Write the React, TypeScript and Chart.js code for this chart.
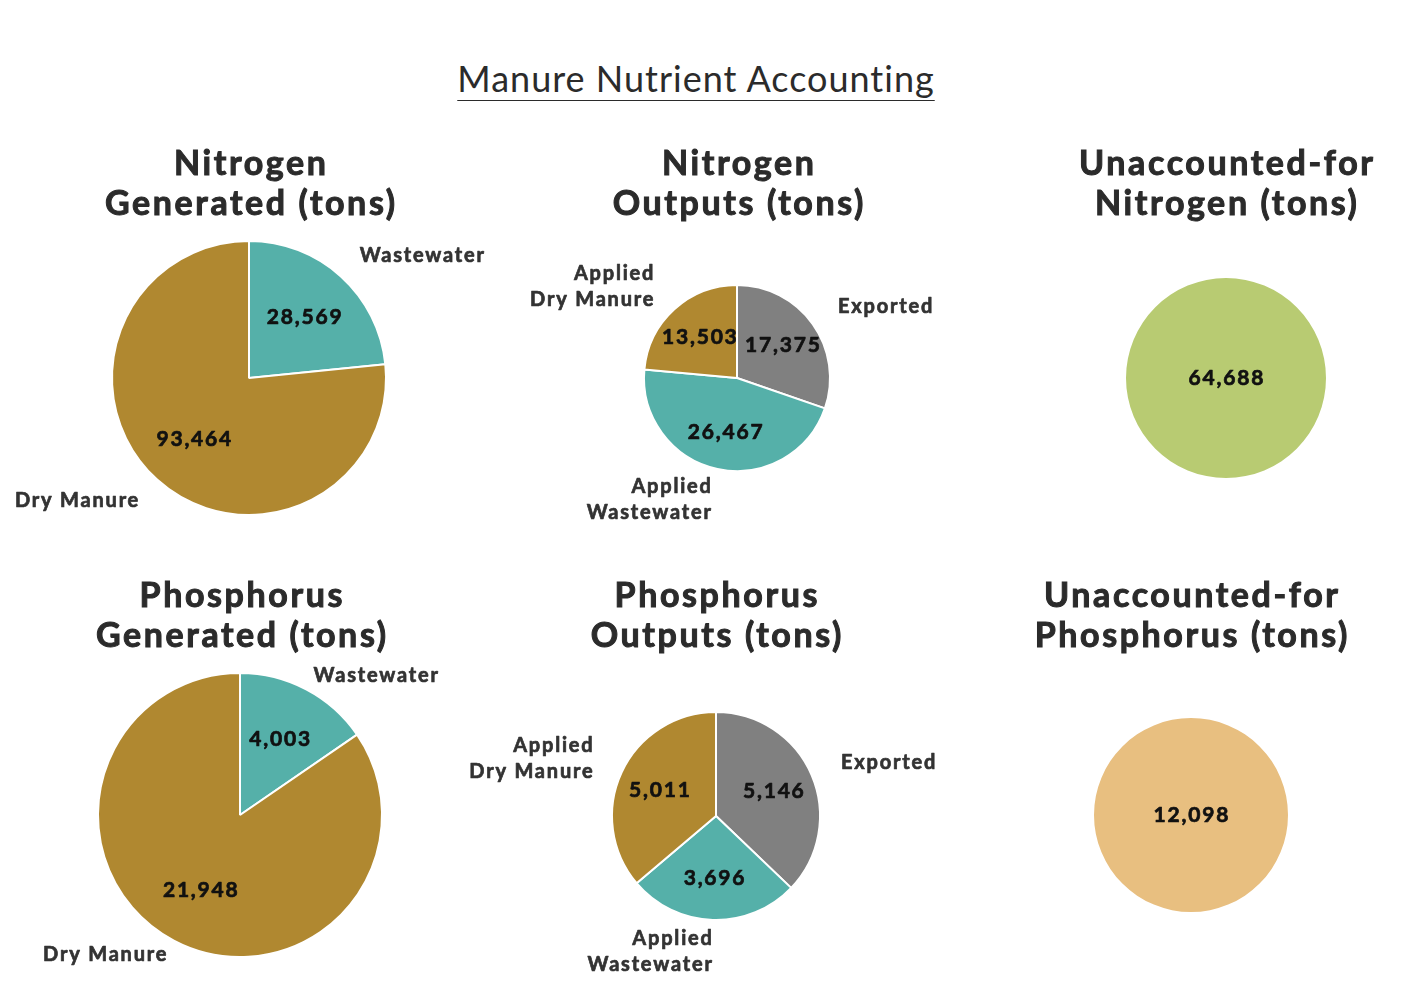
import React, { useEffect, useRef } from "react";
import { Chart, PieController, ArcElement } from "chart.js";

Chart.register(PieController, ArcElement);

// ---------- DATA ----------
const nitrogenGeneratedCategories = [["Wastewater"], ["Dry Manure"]];
const nitrogenGeneratedValues = [28569, 93464];

const nitrogenOutputCategories = [["Exported"], ["Applied", "Wastewater"], ["Applied", "Dry Manure"]];
const nitrogenOutputValues = [17375, 26467, 13503];

const nitrogenUnaccountedCategories = [["Unaccounted-for"]];
const nitrogenUnaccountedValues = [64688];

const phosphorusGeneratedCategories = [["Wastewater"], ["Dry Manure"]];
const phosphorusGeneratedValues = [4003, 21948];

const phosphorusOutputCategories = [["Exported"], ["Applied", "Wastewater"], ["Applied", "Dry Manure"]];
const phosphorusOutputValues = [5146, 3696, 5011];

const phosphorusUnaccountedCategories = [["Unaccounted-for"]];
const phosphorusUnaccountedValues = [12098];

// ---------- STYLE / LAYOUT ----------
const W = 1416;
const H = 1008;
const GOLD = "#b08830";
const TEAL = "#55b0a9";
const GRAY = "#808080";
const GREEN = "#b8cb72";
const ORANGE = "#e8bf80";
const FONT = "Lato, 'Open Sans', sans-serif";

type PanelCfg = {
  title: string[];
  categories: string[][];
  values: number[];
  colors: string[];
  cx: number;
  cy: number;
  r: number;
  gap: number;
  titleX: number;
  titleBaseline: number;
};

const panels: PanelCfg[] = [
  { title: ["Nitrogen", "Generated (tons)"], categories: nitrogenGeneratedCategories, values: nitrogenGeneratedValues, colors: [TEAL, GOLD], cx: 249, cy: 378, r: 137, gap: 28, titleX: 250, titleBaseline: 175 },
  { title: ["Nitrogen", "Outputs (tons)"], categories: nitrogenOutputCategories, values: nitrogenOutputValues, colors: [GRAY, TEAL, GOLD], cx: 737, cy: 378, r: 93, gap: 31, titleX: 738, titleBaseline: 175 },
  { title: ["Unaccounted-for", "Nitrogen (tons)"], categories: nitrogenUnaccountedCategories, values: nitrogenUnaccountedValues, colors: [GREEN], cx: 1226, cy: 378, r: 100, gap: 0, titleX: 1226, titleBaseline: 175 },
  { title: ["Phosphorus", "Generated (tons)"], categories: phosphorusGeneratedCategories, values: phosphorusGeneratedValues, colors: [TEAL, GOLD], cx: 240, cy: 815, r: 142, gap: 16, titleX: 241, titleBaseline: 607 },
  { title: ["Phosphorus", "Outputs (tons)"], categories: phosphorusOutputCategories, values: phosphorusOutputValues, colors: [GRAY, TEAL, GOLD], cx: 716, cy: 816, r: 104, gap: 32, titleX: 716, titleBaseline: 607 },
  { title: ["Unaccounted-for", "Phosphorus (tons)"], categories: phosphorusUnaccountedCategories, values: phosphorusUnaccountedValues, colors: [ORANGE], cx: 1191, cy: 815, r: 97, gap: 0, titleX: 1191, titleBaseline: 607 },
];

function PiePanel({ cfg }: { cfg: PanelCfg }) {
  const ref = useRef<HTMLCanvasElement | null>(null);
  useEffect(() => {
    if (!ref.current) return;
    const single = cfg.values.length === 1;
    const border = single ? 0 : 2;
    const labelPlugin = {
      id: "pieLabels",
      afterDatasetsDraw(chart: any) {
        const meta = chart.getDatasetMeta(0);
        const ctx = chart.ctx;
        const n = meta.data.length;
        ctx.save();
        ctx.lineJoin = "round";
        meta.data.forEach((arc: any, i: number) => {
          const p = arc.getProps(["x", "y", "startAngle", "endAngle", "outerRadius"], true);
          const mid = (p.startAngle + p.endAngle) / 2;
          const c = Math.cos(mid);
          const s = Math.sin(mid);
          const vx = n === 1 ? p.x : p.x + c * p.outerRadius * 0.6;
          const vy = n === 1 ? p.y : p.y + s * p.outerRadius * 0.6;
          ctx.font = `bold 21px ${FONT}`;
          (ctx as any).letterSpacing = "1.8px";
          ctx.fillStyle = "#111111";
          ctx.strokeStyle = "#111111";
          ctx.lineWidth = 0.7;
          ctx.textAlign = "center";
          ctx.textBaseline = "middle";
          const txt = cfg.values[i].toLocaleString("en-US");
          ctx.fillText(txt, vx + 0.9, vy);
          ctx.strokeText(txt, vx + 0.9, vy);
          if (n > 1) {
            const d = p.outerRadius + cfg.gap;
            const ax = p.x + c * d;
            const ay = p.y + s * d;
            const lines = cfg.categories[i];
            const lh = 26;
            ctx.font = `bold 20px ${FONT}`;
            (ctx as any).letterSpacing = "1.8px";
            ctx.fillStyle = "#333333";
            ctx.strokeStyle = "#333333";
            ctx.lineWidth = 0.7;
            const right = c < 0;
            ctx.textAlign = right ? "right" : "left";
            const off = right ? 1.8 : 0;
            lines.forEach((ln, k) => {
              const yy = ay - ((lines.length - 1) * lh) / 2 + k * lh;
              ctx.fillText(ln, ax + off, yy);
              ctx.strokeText(ln, ax + off, yy);
            });
          }
        });
        ctx.restore();
      },
    };
    const chart = new Chart(ref.current, {
      type: "pie",
      data: {
        labels: cfg.categories.map((l) => l.join(" ")),
        datasets: [
          {
            data: cfg.values,
            backgroundColor: cfg.colors,
            borderColor: "#ffffff",
            borderWidth: border,
          },
        ],
      },
      options: {
        responsive: false,
        maintainAspectRatio: false,
        devicePixelRatio: 1,
        animation: false,
        events: [],
        layout: {
          padding: {
            left: cfg.cx - cfg.r - border / 2,
            right: W - cfg.cx - cfg.r - border / 2,
            top: cfg.cy - cfg.r - border / 2,
            bottom: H - cfg.cy - cfg.r - border / 2,
          },
        },
        plugins: { legend: { display: false }, tooltip: { enabled: false } },
      } as any,
      plugins: [labelPlugin],
    });
    return () => chart.destroy();
  }, [cfg]);

  return (
    <>
      <canvas
        ref={ref}
        width={W}
        height={H}
        style={{ position: "absolute", left: 0, top: 0, width: W, height: H, display: "block" }}
      />
      <div
        style={{
          position: "absolute",
          left: cfg.titleX - 250,
          width: 500,
          top: cfg.titleBaseline - 33,
          textAlign: "center",
          fontFamily: FONT,
          fontWeight: 700,
          fontSize: 34,
          letterSpacing: "2.6px",
          textIndent: "2.6px",
          lineHeight: "40px",
          color: "#2b2b2b",
          WebkitTextStroke: "1px #2b2b2b",
          whiteSpace: "nowrap",
        }}
      >
        {cfg.title.map((t, i) => (
          <div key={i}>{t}</div>
        ))}
      </div>
    </>
  );
}

export default function App() {
  return (
    <div style={{ position: "absolute", left: 0, top: 0, width: W, height: H, background: "#ffffff", overflow: "hidden" }}>
      <div
        style={{
          position: "absolute",
          left: 0,
          width: 1392,
          top: 57,
          textAlign: "center",
          fontFamily: FONT,
          fontWeight: 400,
          fontSize: 36,
          letterSpacing: "1px",
          lineHeight: "42px",
          color: "#2b2b2b",
        }}
      >
        <span style={{ textDecoration: "underline", textDecorationThickness: "1px", textUnderlineOffset: "8px" }}>
          Manure Nutrient Accounting
        </span>
      </div>
      {panels.map((p, i) => (
        <PiePanel key={i} cfg={p} />
      ))}
    </div>
  );
}
